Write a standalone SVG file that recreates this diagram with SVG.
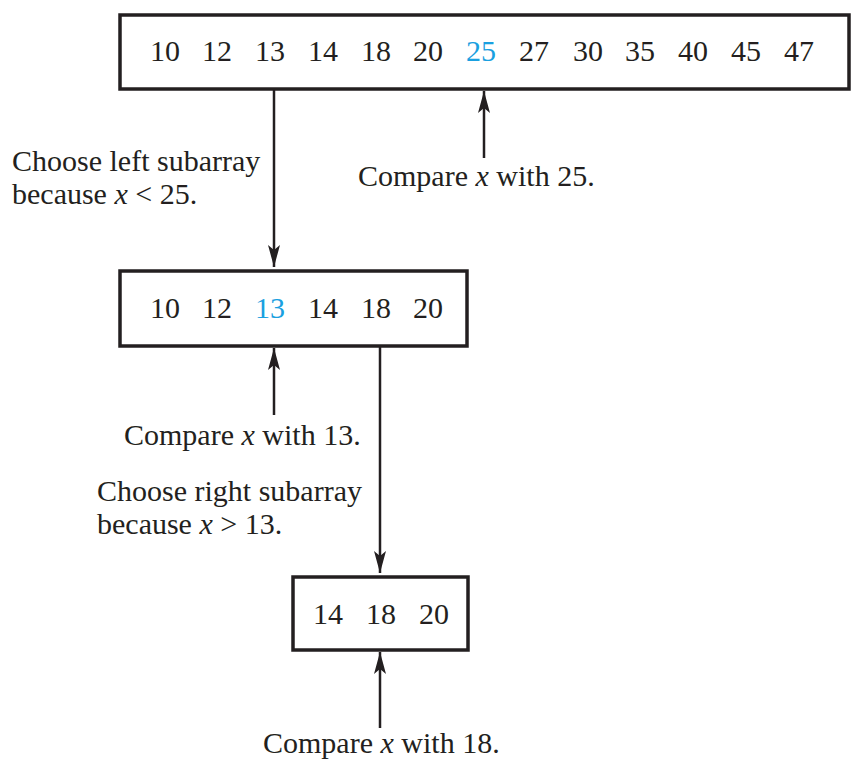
<svg xmlns="http://www.w3.org/2000/svg" width="858" height="767" viewBox="0 0 858 767">
<defs>
<style>
.box{fill:#fff;stroke:#231f20;stroke-width:3.5}
.t{font-family:"Liberation Serif","Times New Roman",serif;font-size:30px;fill:#231f20}
.n{text-anchor:middle}
.hl{fill:#1aa0e0}
.c{stroke:#231f20;stroke-width:2.5;fill:none}
.i{font-style:italic}
</style>
<marker id="ah" viewBox="0 0 22 12" refX="22" refY="6" markerWidth="22" markerHeight="12" markerUnits="userSpaceOnUse" orient="auto">
<path d="M0,0 L22,6 L0,12 L5,6 Z" fill="#231f20"/>
</marker>
</defs>
<rect width="858" height="767" fill="#fff"/>
<g id="connectors">
<line class="c" x1="274" y1="89" x2="274" y2="267" marker-end="url(#ah)"/>
<line class="c" x1="484" y1="158" x2="484" y2="91" marker-end="url(#ah)"/>
<line class="c" x1="274" y1="415" x2="274" y2="348" marker-end="url(#ah)"/>
<line class="c" x1="380" y1="346" x2="380" y2="573" marker-end="url(#ah)"/>
<line class="c" x1="380" y1="728" x2="380" y2="652" marker-end="url(#ah)"/>
</g>
<g id="array1">
<rect class="box" x="120" y="15" width="729" height="74"/>
<g class="t n">
<text x="165" y="61">10</text><text x="217" y="61">12</text><text x="270" y="61">13</text><text x="323" y="61">14</text><text x="376" y="61">18</text><text x="428" y="61">20</text><text x="481" y="61" class="hl">25</text><text x="534" y="61">27</text><text x="588" y="61">30</text><text x="640" y="61">35</text><text x="693" y="61">40</text><text x="746" y="61">45</text><text x="799" y="61">47</text>
</g>
</g>
<g id="array2">
<rect class="box" x="120" y="271" width="347" height="75"/>
<g class="t n">
<text x="165" y="318">10</text><text x="217" y="318">12</text><text x="270" y="318" class="hl">13</text><text x="323" y="318">14</text><text x="376" y="318">18</text><text x="428" y="318">20</text>
</g>
</g>
<g id="array3">
<rect class="box" x="293" y="577" width="175" height="73"/>
<g class="t n">
<text x="328" y="624">14</text><text x="381" y="624">18</text><text x="434" y="624">20</text>
</g>
</g>
<g id="labels">
<text class="t" x="12" y="171">Choose left subarray</text>
<text class="t" x="12" y="204">because <tspan class="i">x</tspan> &lt; 25.</text>
<text class="t" x="358" y="186">Compare <tspan class="i">x</tspan> with 25.</text>
<text class="t" x="124" y="445">Compare <tspan class="i">x</tspan> with 13.</text>
<text class="t" x="97" y="501">Choose right subarray</text>
<text class="t" x="97" y="534">because <tspan class="i">x</tspan> &gt; 13.</text>
<text class="t" x="263" y="753">Compare <tspan class="i">x</tspan> with 18.</text>
</g>
</svg>
